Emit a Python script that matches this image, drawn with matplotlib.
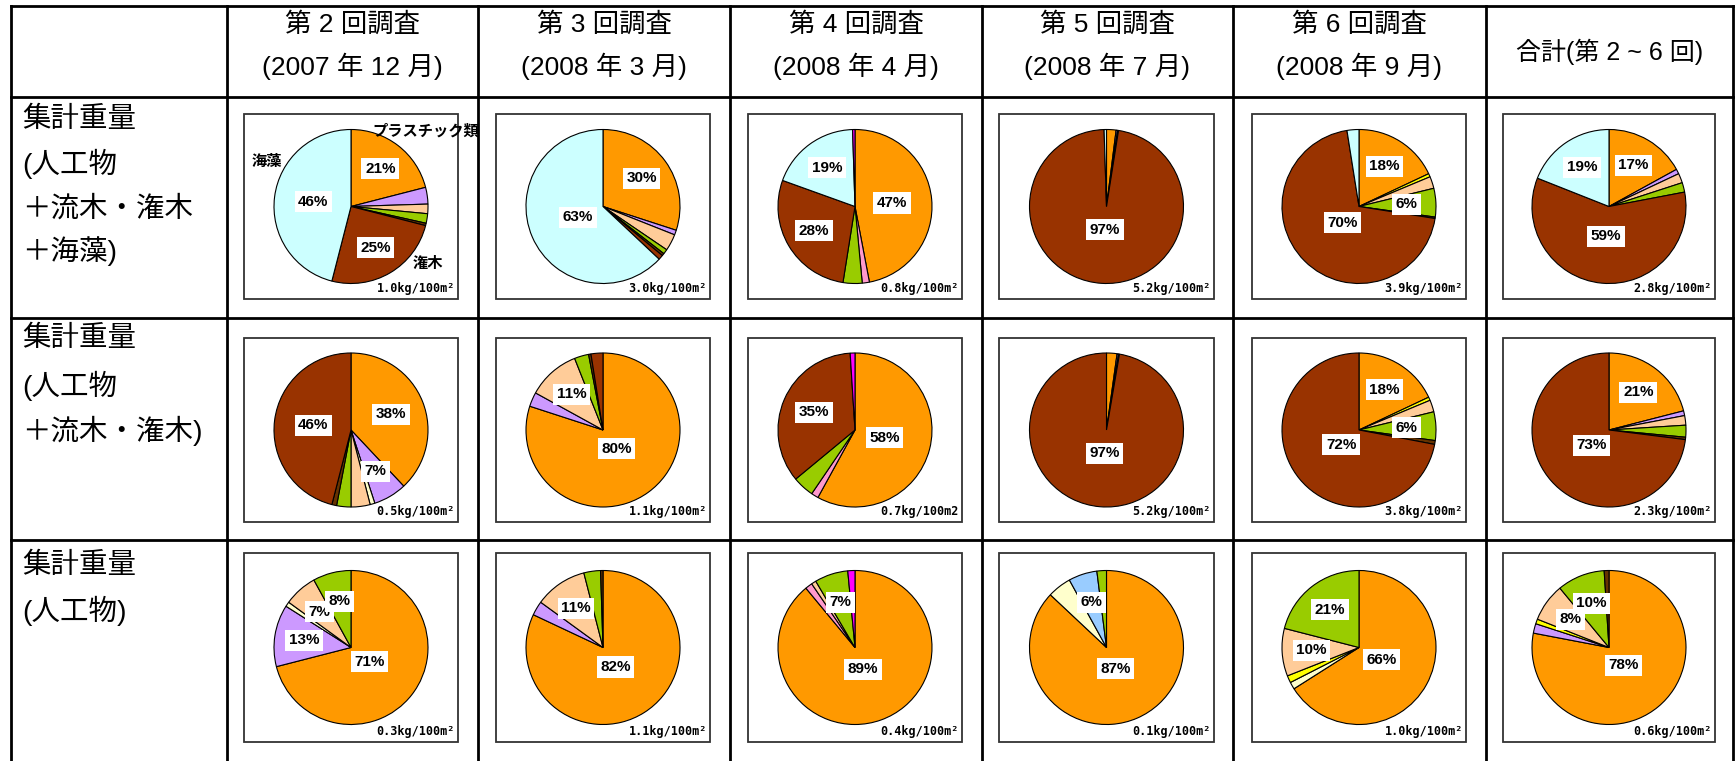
import matplotlib
matplotlib.use('Agg')
import matplotlib.pyplot as plt
import numpy as np

# ---------------- data ----------------
categories = ['プラスチック類', '発泡スチロール類', '紙類', '布類', 'ガラス・陶磁器類',
              '金属類', 'ゴム類', 'その他人工物', '木類', '流木・潅木', '海藻', 'その他']
cat_colors = ['#FF9900', '#CC99FF', '#FFFFCC', '#FFFF00', '#FF99CC',
              '#99CCFF', '#FFCC99', '#99CC00', '#663300', '#993300', '#CCFFFF', '#FF00FF']

col_line1 = ['第 2 回調査', '第 3 回調査', '第 4 回調査', '第 5 回調査', '第 6 回調査']
col_line2 = ['(2007 年 12 月)', '(2008 年 3 月)', '(2008 年 4 月)', '(2008 年 7 月)', '(2008 年 9 月)']
col_total = '合計(第 2 ~ 6 回)'

row_labels = [['集計重量', '(人工物', '＋流木・潅木', '＋海藻)'],
              ['集計重量', '(人工物', '＋流木・潅木)'],
              ['集計重量', '(人工物)']]

# shares (%) per pie, order = categories
row1_vals = [
    [21, 3.5, 0, 0, 0, 0, 2, 2, 0.5, 25, 46, 0],
    [30, 1, 0, 0, 0, 0, 3.5, 1, 0.5, 1, 63, 0],
    [47, 0, 0, 0, 1.5, 0, 0, 4, 0, 28, 19, 0.5],
    [2, 0.3, 0, 0, 0, 0, 0, 0, 0.2, 97, 0.5, 0],
    [18, 0, 0, 0.7, 0, 0, 2.5, 6, 0.3, 70, 2.5, 0],
    [17, 1, 0, 0, 0, 0, 2, 2, 0, 59, 19, 0],
]
row2_vals = [
    [38, 7, 1, 0, 0, 0, 4, 3, 1, 46, 0, 0],
    [80, 3, 0, 0, 0, 0, 11, 3, 0.5, 2.5, 0, 0],
    [58, 0, 0, 0, 1.5, 0, 0, 4.5, 0, 35, 0, 1],
    [2.2, 0.3, 0, 0, 0, 0, 0, 0, 0.2, 97.3, 0, 0],
    [18, 0, 0, 0.7, 0, 0, 2.5, 6, 0.8, 72, 0, 0],
    [21, 1, 0, 0, 0, 0, 2, 2.5, 0.5, 73, 0, 0],
]
row3_vals = [
    [71, 13, 1, 0, 0, 0, 7, 8, 0, 0, 0, 0],
    [82, 3, 0, 0, 0, 0, 11, 3.5, 0.5, 0, 0, 0],
    [89, 0, 0, 0, 1.5, 0, 1, 7, 0, 0, 0, 1.5],
    [87, 0, 5, 0, 0, 6, 0, 2, 0, 0, 0, 0],
    [66, 0, 1.5, 1.5, 0, 0, 10, 21, 0, 0, 0, 0],
    [78, 2, 0, 1, 0, 0, 8, 10, 1, 0, 0, 0],
]
all_vals = [row1_vals, row2_vals, row3_vals]

weights = [['1.0', '3.0', '0.8', '5.2', '3.9', '2.8'],
           ['0.5', '1.1', '0.7', '5.2', '3.8', '2.3'],
           ['0.3', '1.1', '0.4', '0.1', '1.0', '0.6']]
weight_unit = [['kg/100m²'] * 6,
               ['kg/100m²', 'kg/100m²', 'kg/100m2', 'kg/100m²', 'kg/100m²', 'kg/100m²'],
               ['kg/100m²'] * 6]

# ---------------- layout ----------------
W, H = 1736, 761
fig = plt.figure(figsize=(W / 100, H / 100), dpi=100)
ax = fig.add_axes([0, 0, 1, 1])

def Y(y):
    return H - y

xs = [11, 227, 478, 730, 982, 1233, 1486, 1733]
ys = [6, 97, 318, 540, 761]
frame_x = [(244, 458), (496, 710), (748, 962), (999, 1214), (1252, 1466), (1503, 1715)]
frame_y = [(114, 299), (338, 522), (553, 742)]
R = 77

JP = ['Liberation Sans', 'Noto Sans CJK JP']
JPB = ['Noto Sans CJK JP', 'DejaVu Sans']

# table lines
for x in xs:
    ax.plot([x, x], [Y(ys[0]), Y(ys[-1])], color='black', lw=2.0, solid_capstyle='projecting')
for y in ys[:-1]:
    ax.plot([xs[0], xs[-1]], [Y(y), Y(y)], color='black', lw=2.0, solid_capstyle='projecting')

# headers
for i in range(5):
    cx = (xs[i + 1] + xs[i + 2]) / 2
    ax.text(cx, Y(25), col_line1[i], ha='center', va='center', fontsize=19, family=JP)
    ax.text(cx, Y(66), col_line2[i], ha='center', va='center', fontsize=19, family=JP)
ax.text((xs[6] + xs[7]) / 2, Y(52), col_total, ha='center', va='center', fontsize=18, family=JP)

# row labels
row_label_y = [[120, 164, 209, 251], [339, 386, 431], [566, 611]]
for r in range(3):
    for t, yy in zip(row_labels[r], row_label_y[r]):
        ax.text(22, Y(yy), t, ha='left', va='center', fontsize=20.5, family=JP)

def label_r(frac):
    if frac <= 0.3:
        return 0.62
    if frac >= 0.7:
        return 0.30
    return 0.62 - 0.32 * (frac - 0.3) / 0.4

# pies
for r in range(3):
    fy0, fy1 = frame_y[r]
    for c in range(6):
        fx0, fx1 = frame_x[c]
        ax.add_patch(plt.Rectangle((fx0, Y(fy1)), fx1 - fx0, fy1 - fy0, fill=False,
                                   edgecolor='#333333', lw=1.3))
        cx = (fx0 + fx1) / 2
        cy = (fy0 + fy1) / 2
        vals = all_vals[r][c]
        v = [val for val in vals if val > 0]
        cols = [cat_colors[k] for k, val in enumerate(vals) if val > 0]
        ax.pie(v, colors=cols, startangle=90, counterclock=False, radius=R,
               center=(cx, Y(cy)), wedgeprops=dict(edgecolor='black', linewidth=0.8))
        total = sum(v)
        cum = 0
        for val in v:
            frac = val / total
            mid = cum + frac / 2
            cum += frac
            if round(val) >= 6:
                th = np.deg2rad(90 - 360 * mid)
                rr = label_r(frac) * R
                ax.text(cx + rr * np.cos(th), Y(cy) + rr * np.sin(th), f'{round(val)}%',
                        ha='center', va='center', fontsize=11, fontweight='bold',
                        family=['Liberation Sans'],
                        bbox=dict(facecolor='white', edgecolor='none', pad=2.5))
        ax.text(fx1 - 3, Y(fy1 - 4), weights[r][c] + weight_unit[r][c], ha='right', va='bottom',
                fontsize=8.5, fontweight='bold', family=['DejaVu Sans Mono'])

# category callouts on first pie
ax.text(426, Y(131), categories[0], ha='center', va='center', fontsize=11,
        fontweight='bold', family=JPB)
ax.text(267, Y(161), categories[10], ha='center', va='center', fontsize=11,
        fontweight='bold', family=JPB)
ax.text(428, Y(263), '潅木', ha='center', va='center', fontsize=11,
        fontweight='bold', family=JPB)

ax.set_xlim(0, W)
ax.set_ylim(0, H)
ax.set_aspect('auto')
ax.axis('off')
fig.savefig('out.png', dpi=100)
